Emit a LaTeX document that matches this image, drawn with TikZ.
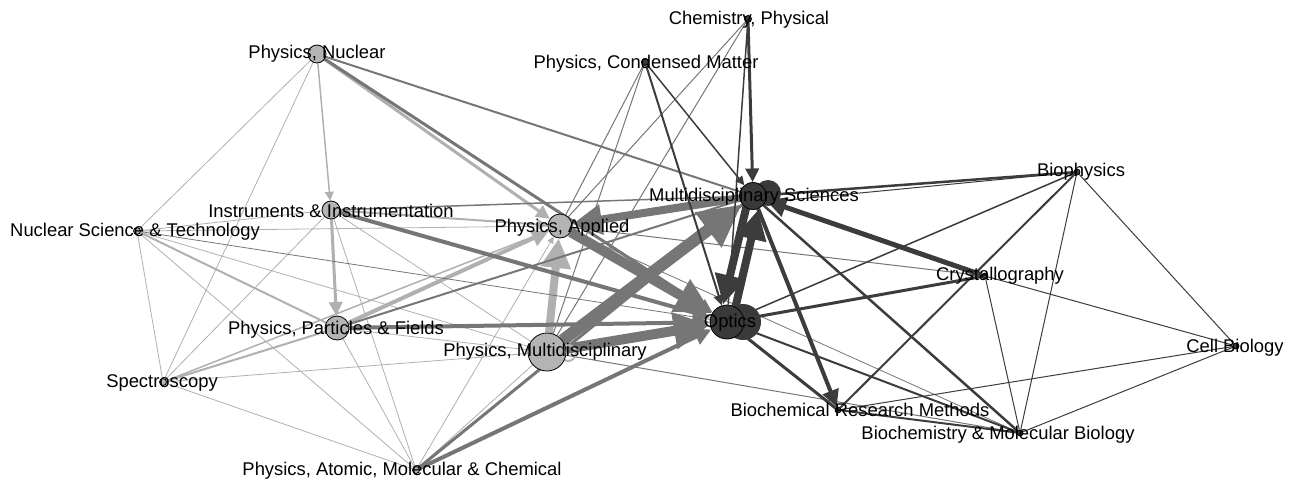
\documentclass[tikz,border=0pt]{standalone}
\usepackage{fontspec}
\setmainfont{Liberation Sans}
\usetikzlibrary{arrows.meta}
\pgfdeclarelayer{edges}
\pgfdeclarelayer{labels}
\pgfsetlayers{edges,main,labels}
\definecolor{lnodec}{HTML}{B4B4B4}
\definecolor{dnodec}{HTML}{3A3A3A}
\definecolor{lte}{HTML}{B0B0B0}
\definecolor{mde}{HTML}{767676}
\definecolor{dke}{HTML}{3C3C3C}
\begin{document}
\begin{tikzpicture}[x=1pt,y=-1pt,
  ln/.style={circle, draw=black, line width=0.8pt, fill=lnodec, inner sep=0pt, minimum size=#1},
  dn/.style={circle, draw=black, line width=0.8pt, fill=dnodec, inner sep=0pt, minimum size=#1},
  lab/.style={font=\fontsize{18.4}{20}\selectfont, inner sep=0pt, anchor=center, text=black, yshift=-2pt},
  ar/.style={-{Triangle[length=4pt 3.2, width=4pt 3.1]}},
  lt/.style={draw=lte, line width=#1},
  md/.style={draw=mde, line width=#1},
  dk/.style={draw=dke, line width=#1},
  loopd/.style={circle, fill=dnodec, inner sep=0pt, minimum size=#1},
  loopl/.style={circle, draw=lnodec, line width=2pt, inner sep=0pt, minimum size=#1}
]
\useasboundingbox (0,0) rectangle (1291,482);

% self-loop discs behind nodes
\node[loopd=26] (msloop) at (768,193) {};
\node[loopd=36] (oploop) at (743,322) {};
\node[loopl=16] (pmloop) at (568,353) {};

% nodes
\node[dn=7] (cp) at (748,19) {};
\node[dn=7] (cm) at (645,62) {};
\node[ln=18] (pn) at (317,54) {};
\node[dn=27] (ms) at (753,196) {};
\node[dn=6] (bp) at (1077,172) {};
\node[ln=24] (pa) at (560,226) {};
\node[ln=18] (ii) at (331,210) {};
\node[ln=7] (ns) at (137,231) {};
\node[dn=6] (cr) at (985,276) {};
\node[dn=34] (op) at (727,322) {};
\node[ln=24] (pf) at (337,328) {};
\node[ln=38] (pm) at (547,352) {};
\node[dn=6] (cb) at (1236,346) {};
\node[ln=7] (sp) at (163,382) {};
\node[dn=6] (brm) at (838,410) {};
\node[dn=6] (bmb) at (1020,433) {};
\node[ln=7] (pamc) at (416,470) {};

\begin{pgfonlayer}{edges}
% light-light
\draw[lt=0.8] (pn) -- (ns);
\draw[lt=0.8] (pn) -- (sp);
\draw[lt=1.5, ar] (pn) -- (ii);
\draw[lt=3, ar] (pn) -- (pa);
\draw[lt=0.8] (ns) -- (ii);
\draw[lt=0.8] (ns) -- (pa);
\draw[lt=2] (ns) -- (pf);
\draw[lt=0.8] (ns) -- (sp);
\draw[lt=0.8] (ns) -- (pm);
\draw[lt=0.8] (ns) -- (pamc);
\draw[lt=3, ar] (ii) -- (pf);
\draw[lt=0.8] (ii) -- (sp);
\draw[lt=0.8] (ii) -- (pamc);
\draw[lt=2, ar] (ii) -- (pa);
\draw[lt=0.8] (ii) -- (pm);
\draw[lt=4, ar] (pf) -- (pa);
\draw[lt=0.8] (pf) -- (pm);
\draw[lt=2] (sp) -- (pf);
\draw[lt=0.8] (pf) -- (pamc);
\draw[lt=1.5] (sp) -- (pa);
\draw[lt=0.8] (sp) -- (pm);
\draw[lt=0.8] (sp) -- (pamc);
\draw[lt=8, ar] (pm) -- (pa);
\draw[lt=0.8] (pamc) -- (pm);
\draw[lt=0.8, ar] (pamc) -- (pa);
% light-dark
\draw[md=2] (pn) -- (ms);
\draw[md=3, ar] (pn) -- (op);
\draw[md=1.5] (ii) -- (ms);
\draw[md=4, ar] (ii) -- (op);
\draw[md=2] (pf) -- (ms);
\draw[md=4, ar] (pf) -- (op);
\draw[md=0.8] (ns) -- (op);
\draw[md=12, ar] (pm) -- (ms);
\draw[md=10, ar] (pm) -- (op);
\draw[md=10, ar] (pa) -- (op);
\draw[md=8, ar] (ms) -- (pa);
\draw[md=4, ar] (pamc) -- (op);
\draw[md=3] (pamc) -- (ms);
\draw[md=1] (pa) -- (cr);
\draw[md=1] (pa) -- (cm);
\draw[md=1] (pa) -- (cp);
\draw[md=1] (pm) -- (cp);
\draw[md=1] (pm) -- (cm);
\draw[md=1] (pm) -- (bmb);
\draw[md=0.8] (pa) -- (bmb);
% dark-dark
\draw[dk=2, ar] (cm) -- (op);
\draw[dk=1.5, ar] (cm) -- (ms);
\draw[dk=3, ar] (cp) -- (ms);
\draw[dk=1.5] (cp) -- (op);
\draw[dk=8, ar] ([xshift=5pt]op.center) -- ([xshift=5pt]ms.south);
\draw[dk=8, ar] ([xshift=-4pt]ms.center) -- ([xshift=-4pt]op.north);
\draw[dk=2.5] (ms) -- (bp);
\draw[dk=1] ([yshift=-6pt]ms.east) -- (bp);
\draw[dk=5, ar] (cr) -- (ms);
\draw[dk=4, ar] (ms) -- (brm);
\draw[dk=2.5] (ms) -- (bmb);
\draw[dk=3] (op) -- (cr);
\draw[dk=1.5] (op) -- (bp);
\draw[dk=3] (op) -- (brm);
\draw[dk=2] (op) -- (bmb);
\draw[dk=2] (bp) -- (brm);
\draw[dk=1] (cr) -- (bmb);
\draw[dk=1] (cr) -- (cb);
\draw[dk=1] (bp) -- (bmb);
\draw[dk=1] (bp) -- (cb);
\draw[dk=1] (cb) -- (brm);
\draw[dk=1] (cb) -- (bmb);
\draw[dk=2] (brm) -- (bmb);
\end{pgfonlayer}

\begin{pgfonlayer}{labels}
\node[lab] (cp-l) at (749,18) {Chemistry, Physical};
\node[lab] (cm-l) at (646,62) {Physics, Condensed Matter};
\node[lab] (pn-l) at (317,52) {Physics, Nuclear};
\node[lab] (ms-l) at (754,195) {Multidisciplinary Sciences};
\node[lab] (bp-l) at (1081,170) {Biophysics};
\node[lab] (pa-l) at (562,226) {Physics, Applied};
\node[lab] (ii-l) at (331,209) {Instruments \& Instrumentation};
\node[lab] (ns-l) at (135,230) {Nuclear Science \& Technology};
\node[lab] (cr-l) at (1000,274) {Crystallography};
\node[lab] (op-l) at (730,321) {Optics};
\node[lab] (pf-l) at (336,328) {Physics, Particles \& Fields};
\node[lab] (pm-l) at (545,350) {Physics, Multidisciplinary};
\node[lab] (cb-l) at (1235,346) {Cell Biology};
\node[lab] (sp-l) at (162,381) {Spectroscopy};
\node[lab] (brm-l) at (860,408) {Biochemical Research Methods};
\node[lab] (bmb-l) at (998,433) {Biochemistry \& Molecular Biology};
\node[lab] (pamc-l) at (402,469) {Physics, Atomic, Molecular \& Chemical};
\end{pgfonlayer}
\end{tikzpicture}
\end{document}
